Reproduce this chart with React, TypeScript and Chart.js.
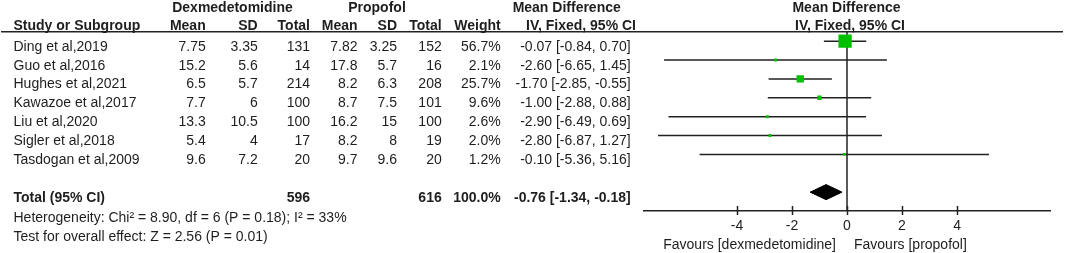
import React, { useEffect, useRef } from "react";
import { Chart, registerables } from "chart.js";

Chart.register(...registerables);

// ---------- data ----------
const studies = [
  "Ding et al,2019",
  "Guo et al,2016",
  "Hughes et al,2021",
  "Kawazoe et al,2017",
  "Liu et al,2020",
  "Sigler et al,2018",
  "Tasdogan et al,2009",
];
const dexMean = [7.75, 15.2, 6.5, 7.7, 13.3, 5.4, 9.6];
const dexSD = [3.35, 5.6, 5.7, 6, 10.5, 4, 7.2];
const dexTotal = [131, 14, 214, 100, 100, 17, 20];
const propMean = [7.82, 17.8, 8.2, 8.7, 16.2, 8.2, 9.7];
const propSD = [3.25, 5.7, 6.3, 7.5, 15, 8, 9.6];
const propTotal = [152, 16, 208, 101, 100, 19, 20];
const weights = [56.7, 2.1, 25.7, 9.6, 2.6, 2.0, 1.2];
const md = [-0.07, -2.6, -1.7, -1.0, -2.9, -2.8, -0.1];
const ciLow = [-0.84, -6.65, -2.85, -2.88, -6.49, -6.87, -5.36];
const ciHigh = [0.7, 1.45, -0.55, 0.88, 0.69, 1.27, 5.16];

const totalDex = 596;
const totalProp = 616;
const totalWeight = 100.0;
const totalMD = -0.76;
const totalLow = -1.34;
const totalHigh = -0.18;

const heterogeneityText = "Heterogeneity: Chi\u00b2 = 8.90, df = 6 (P = 0.18); I\u00b2 = 33%";
const overallText = "Test for overall effect: Z = 2.56 (P = 0.01)";
const xTicks = [-4, -2, 0, 2, 4];
const favoursLeft = "Favours [dexmedetomidine]";
const favoursRight = "Favours [propofol]";

// ---------- style ----------
const FONT = "'Liberation Sans', Arial, Helvetica, sans-serif";
const TEXT = "#1e1e1e";
const LINE = "#222222";
const GREEN = "#00c000";

const fmtCI = (m: number, lo: number, hi: number) =>
  `${m.toFixed(2)} [${lo.toFixed(2)}, ${hi.toFixed(2)}]`;

const tablePlugin = {
  id: "forestTable",
  afterDraw(chart: any) {
    const ctx = chart.ctx as CanvasRenderingContext2D;
    const ys = chart.scales.y;
    const xs = chart.scales.x;
    const area = chart.chartArea;
    const x0 = xs.getPixelForValue(0);
    ctx.save();

    // header rule
    ctx.strokeStyle = LINE;
    ctx.lineWidth = 1.5;
    ctx.beginPath();
    ctx.moveTo(1, area.top);
    ctx.lineTo(1063, area.top);
    ctx.stroke();

    // axis tick marks crossing the axis
    ctx.beginPath();
    for (const t of xs.ticks) {
      const px = Math.round(xs.getPixelForValue(t.value)) + 0.5;
      ctx.moveTo(px, area.bottom - 5);
      ctx.lineTo(px, area.bottom + 4);
    }
    ctx.stroke();

    ctx.fillStyle = TEXT;
    ctx.textBaseline = "alphabetic";
    const put = (s: string, x: number, y: number, align: CanvasTextAlign, bold = false) => {
      ctx.font = `${bold ? "bold " : ""}14px ${FONT}`;
      ctx.textAlign = align;
      ctx.fillText(s, x, y);
    };

    // headers
    put("Dexmedetomidine", 232.5, 12, "center", true);
    put("Propofol", 377, 12, "center", true);
    put("Mean Difference", 566.7, 12, "center", true);
    put("Mean Difference", x0 - 0.5, 12, "center", true);
    put("Study or Subgroup", 13.5, 30, "left", true);
    put("Mean", 205.7, 30, "right", true);
    put("SD", 257.7, 30, "right", true);
    put("Total", 310, 30, "right", true);
    put("Mean", 357.5, 30, "right", true);
    put("SD", 397, 30, "right", true);
    put("Total", 441.7, 30, "right", true);
    put("Weight", 500.7, 30, "right", true);
    put("IV, Fixed, 95% CI", 581, 30, "center", true);
    put("IV, Fixed, 95% CI", x0 + 3, 30, "center", true);

    // study rows
    studies.forEach((s, i) => {
      const y = ys.getPixelForValue(i) + 9.6;
      put(s, 13.5, y, "left");
      put(String(dexMean[i]), 205.7, y, "right");
      put(String(dexSD[i]), 257.7, y, "right");
      put(String(dexTotal[i]), 310, y, "right");
      put(String(propMean[i]), 357.5, y, "right");
      put(String(propSD[i]), 397, y, "right");
      put(String(propTotal[i]), 441.7, y, "right");
      put(`${weights[i].toFixed(1)}%`, 500.7, y, "right");
      put(fmtCI(md[i], ciLow[i], ciHigh[i]), 630.7, y, "right");
    });

    // total row
    const ty = ys.getPixelForValue(studies.length + 1) + 9.7;
    put("Total (95% CI)", 13.5, ty, "left", true);
    put(String(totalDex), 310, ty, "right", true);
    put(String(totalProp), 441.7, ty, "right", true);
    put(`${totalWeight.toFixed(1)}%`, 500.7, ty, "right", true);
    put(fmtCI(totalMD, totalLow, totalHigh), 630.7, ty, "right", true);

    // footnotes
    put(heterogeneityText, 13.5, ys.getPixelForValue(studies.length + 2) + 10.8, "left");
    put(overallText, 13.5, ys.getPixelForValue(studies.length + 3) + 11.2, "left");

    // favours labels
    put(favoursLeft, x0 - 11, 248.5, "right");
    put(favoursRight, x0 + 7, 248.5, "left");

    ctx.restore();
  },
};

export default function App() {
  const canvasRef = useRef<HTMLCanvasElement | null>(null);

  useEffect(() => {
    const canvas = canvasRef.current;
    if (!canvas) return;

    const totalRow = studies.length + 1;
    const diamondHalf = 0.4;

    const datasets: any[] = [
      {
        label: "studies",
        data: md.map((m, i) => ({ x: m, y: i })),
        showLine: false,
        pointStyle: "rect",
        pointRadius: weights.map((w) => (2.5 + 0.19 * w) / Math.SQRT2),
        pointBackgroundColor: GREEN,
        pointBorderWidth: 0,
        pointBorderColor: GREEN,
        order: 0,
      },
      {
        label: "pooled",
        data: [
          { x: totalLow, y: totalRow },
          { x: totalMD, y: totalRow - diamondHalf },
          { x: totalHigh, y: totalRow },
          { x: totalMD, y: totalRow + diamondHalf },
          { x: totalLow, y: totalRow },
        ],
        showLine: true,
        fill: "shape",
        backgroundColor: "#000000",
        borderColor: "#000000",
        borderWidth: 1,
        pointRadius: 0,
        tension: 0,
        order: 1,
      },
      ...studies.map((s, i) => ({
        label: s,
        data: [
          { x: ciLow[i], y: i },
          { x: ciHigh[i], y: i },
        ],
        showLine: true,
        borderColor: LINE,
        borderWidth: 1.5,
        pointRadius: 0,
        order: 2,
      })),
      {
        label: "zero",
        data: [
          { x: 0, y: -0.5 },
          { x: 0, y: 9 },
        ],
        showLine: true,
        borderColor: LINE,
        borderWidth: 1.5,
        pointRadius: 0,
        order: 3,
      },
    ];

    const chart = new Chart(canvas, {
      type: "scatter",
      data: { datasets },
      options: {
        animation: false,
        responsive: false,
        maintainAspectRatio: false,
        devicePixelRatio: 1,
        layout: { padding: { left: 644, right: 15, top: 31.7, bottom: 0 } },
        plugins: { legend: { display: false }, tooltip: { enabled: false } },
        events: [],
        scales: {
          x: {
            type: "linear",
            min: -7.38,
            max: 7.38,
            position: "bottom",
            grid: { display: false, drawTicks: false },
            border: { display: true, color: LINE, width: 1.5 },
            ticks: {
              font: { family: FONT, size: 14 },
              color: TEXT,
              padding: 7,
              autoSkip: false,
              maxRotation: 0,
            },
            afterBuildTicks: (scale: any) => {
              scale.ticks = xTicks.map((v) => ({ value: v }));
            },
            afterFit: (scale: any) => {
              scale.height = 42;
            },
          },
          y: {
            type: "linear",
            min: -0.5,
            max: 9,
            reverse: true,
            display: false,
          },
        },
      } as any,
      plugins: [tablePlugin],
    });

    return () => chart.destroy();
  }, []);

  return (
    <div
      style={{
        position: "fixed",
        left: 0,
        top: 0,
        width: 1065,
        height: 253,
        background: "#ffffff",
      }}
    >
      <canvas
        ref={canvasRef}
        width={1065}
        height={253}
        style={{ display: "block", width: 1065, height: 253 }}
      />
    </div>
  );
}
